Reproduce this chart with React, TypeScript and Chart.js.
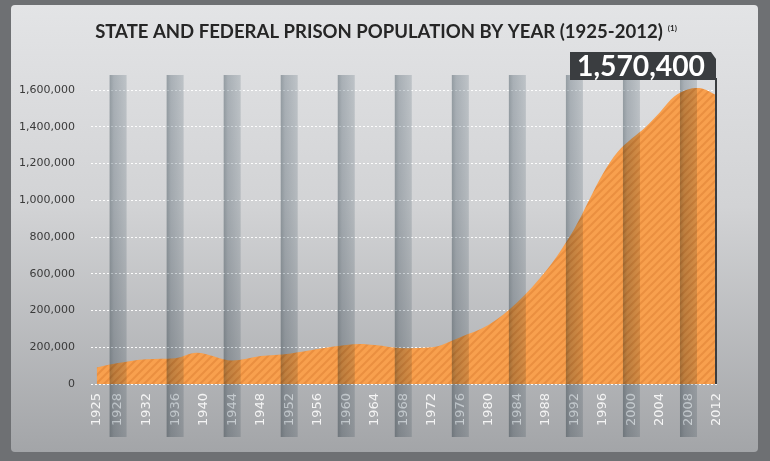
import React, { useEffect, useRef } from 'react';
import { Chart, registerables } from 'chart.js';

Chart.register(...registerables);

// ---- data ----
const years = [1925, 1928, 1932, 1936, 1939, 1944, 1948, 1952, 1956, 1960, 1962, 1964, 1968, 1972, 1976, 1980, 1984, 1988, 1990, 1992, 1996, 1998, 2000, 2002, 2004, 2006, 2008, 2009, 2010, 2012];
const population = [90000, 114000, 135000, 140000, 170000, 128000, 152000, 165000, 190000, 212000, 218000, 212000, 195000, 200000, 255000, 322000, 445000, 615000, 722000, 845000, 1145000, 1260000, 1335000, 1400000, 1480000, 1565000, 1605000, 1612000, 1608000, 1570400];
const xTickYears = [1925, 1928, 1932, 1936, 1940, 1944, 1948, 1952, 1956, 1960, 1964, 1968, 1972, 1976, 1980, 1984, 1988, 1992, 1996, 2000, 2004, 2008, 2012];
const barYears = [1928, 1936, 1944, 1952, 1960, 1968, 1976, 1984, 1992, 2000, 2008];
const yTickValues = [0, 200000, 400000, 600000, 800000, 1000000, 1200000, 1400000, 1600000];
const yTickLabels = ['0', '200,000', '200,000', '600,000', '800,000', '1,000,000', '1,200,000', '1,400,000', '1,600,000'];
const titleText = 'STATE AND FEDERAL PRISON POPULATION BY YEAR (1925-2012)';
const titleNote = '(1)';

function makePattern(): CanvasPattern | string {
  const c = document.createElement('canvas');
  c.width = 8;
  c.height = 8;
  const g = c.getContext('2d');
  if (!g) return '#f8a04e';
  g.fillStyle = '#f8a04e';
  g.fillRect(0, 0, 8, 8);
  g.strokeStyle = 'rgba(205,110,35,0.32)';
  g.lineWidth = 2;
  g.beginPath();
  g.moveTo(-4, 4); g.lineTo(4, -4);
  g.moveTo(0, 8); g.lineTo(8, 0);
  g.moveTo(4, 12); g.lineTo(12, 4);
  g.stroke();
  return g.createPattern(c, 'repeat') || '#f8a04e';
}

function roundRect(ctx: CanvasRenderingContext2D, x: number, y: number, w: number, h: number, r: number) {
  ctx.beginPath();
  ctx.moveTo(x + r, y);
  ctx.lineTo(x + w - r, y);
  ctx.quadraticCurveTo(x + w, y, x + w, y + r);
  ctx.lineTo(x + w, y + h - r);
  ctx.quadraticCurveTo(x + w, y + h, x + w - r, y + h);
  ctx.lineTo(x + r, y + h);
  ctx.quadraticCurveTo(x, y + h, x, y + h - r);
  ctx.lineTo(x, y + r);
  ctx.quadraticCurveTo(x, y, x + r, y);
  ctx.closePath();
}

const decorPlugin = {
  id: 'decor',
  beforeDraw(chart: any) {
    const ctx: CanvasRenderingContext2D = chart.ctx;
    const W = chart.width;
    const H = chart.height;
    ctx.save();
    ctx.fillStyle = '#6e7073';
    ctx.fillRect(0, 0, W, H);
    const grad = ctx.createLinearGradient(0, 5, 0, 452);
    grad.addColorStop(0, '#e3e4e6');
    grad.addColorStop(0.45, '#d2d3d5');
    grad.addColorStop(1, '#a3a5a8');
    ctx.fillStyle = grad;
    roundRect(ctx, 11, 5, 747, 447, 4);
    ctx.fill();

    // title
    ctx.font = 'bold 16px Lato';
    const w0 = ctx.measureText(titleText).width;
    const size = (16 * 568) / w0;
    ctx.font = `bold ${size.toFixed(2)}px Lato`;
    const tw = ctx.measureText(titleText).width;
    ctx.font = 'bold 8px Lato';
    const nw = ctx.measureText(titleNote).width;
    const total = tw + 5 + nw;
    const x0 = W / 2 - total / 2 + 1;
    ctx.fillStyle = '#262626';
    ctx.textBaseline = 'alphabetic';
    ctx.textAlign = 'left';
    ctx.font = `bold ${size.toFixed(2)}px Lato`;
    ctx.fillText(titleText, x0, 38);
    ctx.font = 'bold 8px Lato';
    ctx.fillText(titleNote, x0 + tw + 5, 31);
    ctx.restore();
  },
  afterDatasetsDraw(chart: any) {
    const ctx: CanvasRenderingContext2D = chart.ctx;
    const xs = chart.scales.x;
    ctx.save();
    ctx.globalCompositeOperation = 'multiply';
    const half = 8.5;
    const top = 75;
    const bottom = 437;
    barYears.forEach((yr) => {
      const x = xs.getPixelForValue(yr);
      const g = ctx.createLinearGradient(x - half, 0, x + half, 0);
      g.addColorStop(0, '#aab3b8');
      g.addColorStop(0.25, '#c3cacf');
      g.addColorStop(1, '#dbe0e3');
      ctx.fillStyle = g;
      ctx.fillRect(x - half, top, half * 2, bottom - top);
    });
    ctx.restore();
  },
  afterDraw(chart: any) {
    const ctx: CanvasRenderingContext2D = chart.ctx;
    const xs = chart.scales.x;
    const ys = chart.scales.y;
    const lastYear = years[years.length - 1];
    const lastVal = population[population.length - 1];
    const xr = xs.getPixelForValue(lastYear) - 1;
    const bottom = ys.getPixelForValue(0);
    const dark = '#3a3d40';
    ctx.save();
    ctx.fillStyle = dark;
    ctx.fillRect(xr - 1, 78, 2, bottom - 78);
    const bx = xr - 146;
    const by = 52;
    ctx.beginPath();
    ctx.moveTo(bx, by);
    ctx.lineTo(xr - 5, by);
    ctx.lineTo(xr, by + 7);
    ctx.lineTo(xr, by + 28);
    ctx.lineTo(bx, by + 28);
    ctx.closePath();
    ctx.fill();
    const text = lastVal.toLocaleString('en-US');
    ctx.font = 'bold 26px Lato';
    const w0 = ctx.measureText(text).width;
    const size = (26 * 128) / w0;
    ctx.font = `bold ${size.toFixed(2)}px Lato`;
    ctx.fillStyle = '#ffffff';
    ctx.textAlign = 'center';
    ctx.textBaseline = 'alphabetic';
    ctx.fillText(text, bx + 71, by + 24);
    ctx.restore();
  },
};

export default function App() {
  const ref = useRef<HTMLCanvasElement | null>(null);
  useEffect(() => {
    const canvas = ref.current;
    if (!canvas) return;
    const pattern = makePattern();
    const chart = new Chart(canvas, {
      type: 'line',
      data: {
        datasets: [
          {
            data: years.map((y, i) => ({ x: y, y: population[i] })),
            backgroundColor: pattern as any,
            borderWidth: 0,
            borderColor: 'rgba(0,0,0,0)',
            fill: 'origin',
            pointRadius: 0,
            tension: 0.4,
            cubicInterpolationMode: 'monotone',
          },
        ],
      },
      options: {
        responsive: false,
        animation: false,
        devicePixelRatio: 1,
        layout: { padding: { top: 81, bottom: 27, left: 0, right: 53 } },
        plugins: { legend: { display: false }, tooltip: { enabled: false }, title: { display: false } },
        scales: {
          x: {
            type: 'linear',
            min: 1924.2,
            max: 2012,
            z: 1,
            grid: { display: false, drawTicks: false },
            border: { display: false },
            afterBuildTicks: (scale: any) => {
              scale.ticks = xTickYears.map((v) => ({ value: v }));
            },
            afterFit: (scale: any) => {
              scale.height = 50;
            },
            ticks: {
              autoSkip: false,
              minRotation: 90,
              maxRotation: 90,
              padding: 9,
              color: '#f4f4f4',
              font: { family: 'DejaVu Sans', size: 13 },
              callback: (v: any) => String(v),
            },
          },
          y: {
            min: 0,
            max: 1650000,
            grid: {
              color: 'rgba(255,255,255,0.95)',
              lineWidth: 1,
              drawTicks: false,
            },
            border: { display: false, dash: [2, 2] },
            afterBuildTicks: (scale: any) => {
              scale.ticks = yTickValues.map((v) => ({ value: v }));
            },
            afterFit: (scale: any) => {
              scale.width = 91;
            },
            ticks: {
              padding: 16,
              color: '#3a3a3a',
              font: { family: 'DejaVu Sans', size: 11 },
              callback: (_v: any, i: number) => yTickLabels[i],
            },
          },
        },
      },
      plugins: [decorPlugin],
    } as any);
    return () => chart.destroy();
  }, []);
  return (
    <div style={{ position: 'absolute', left: 0, top: 0, width: 770, height: 461 }}>
      <canvas ref={ref} width={770} height={461} style={{ display: 'block' }} />
    </div>
  );
}
